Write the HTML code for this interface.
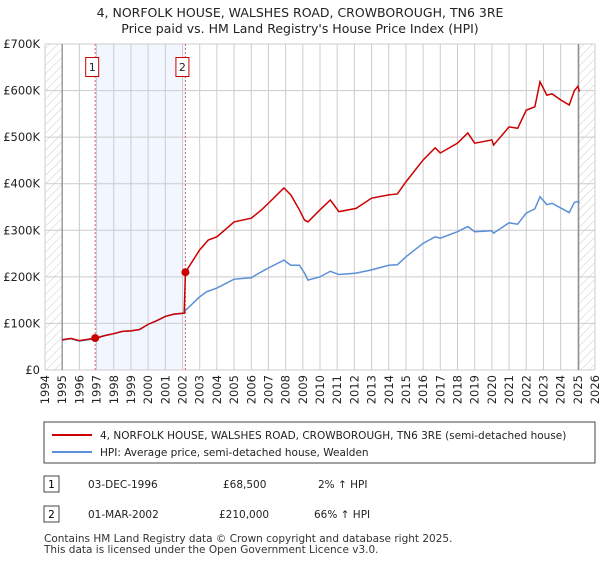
<!DOCTYPE html>
<html><head><meta charset="utf-8"><style>
body{margin:0;background:#fff;font-family:"Liberation Sans","DejaVu Sans",sans-serif;}
svg text{font-family:"DejaVu Sans","Liberation Sans",sans-serif;}
</style></head><body>
<svg id="c" width="600" height="560" xmlns="http://www.w3.org/2000/svg">
<defs><pattern id="hatch" width="6" height="6" patternUnits="userSpaceOnUse" patternTransform="rotate(45)"><line x1="0" y1="0" x2="0" y2="6" stroke="#ccc" stroke-width="1"/></pattern></defs>
<text x="300" y="17" text-anchor="middle" font-size="12.5" fill="#222">4, NORFOLK HOUSE, WALSHES ROAD, CROWBOROUGH, TN6 3RE</text>
<text x="300" y="33" text-anchor="middle" font-size="12.5" fill="#222">Price paid vs. HM Land Registry's House Price Index (HPI)</text>
<g id="plot"></g>
<rect x="44" y="422" width="551" height="41" fill="#fff" stroke="#444"/>
<line x1="52" y1="435" x2="92" y2="435" stroke="#cc0000" stroke-width="2"/>
<text x="100" y="439" font-size="10.5" fill="#222">4, NORFOLK HOUSE, WALSHES ROAD, CROWBOROUGH, TN6 3RE (semi-detached house)</text>
<line x1="52" y1="452" x2="92" y2="452" stroke="#5b8fd6" stroke-width="2"/>
<text x="100" y="456" font-size="10.5" fill="#222">HPI: Average price, semi-detached house, Wealden</text>
<rect x="44" y="476" width="15" height="16" fill="#fff" stroke="#444"/>
<text x="51.5" y="488" font-size="10.5" text-anchor="middle">1</text>
<text x="88" y="488" font-size="10.5" fill="#222">03-DEC-1996</text>
<text x="223" y="488" font-size="10.5" fill="#222">£68,500</text>
<text x="318" y="488" font-size="10.5" fill="#222">2% ↑ HPI</text>
<rect x="44" y="506" width="15" height="16" fill="#fff" stroke="#444"/>
<text x="51.5" y="518" font-size="10.5" text-anchor="middle">2</text>
<text x="88" y="518" font-size="10.5" fill="#222">01-MAR-2002</text>
<text x="219" y="518" font-size="10.5" fill="#222">£210,000</text>
<text x="314" y="518" font-size="10.5" fill="#222">66% ↑ HPI</text>
<text x="44" y="542" font-size="10.5" fill="#333">Contains HM Land Registry data © Crown copyright and database right 2025.</text>
<text x="44" y="553" font-size="10.5" fill="#333">This data is licensed under the Open Government Licence v3.0.</text>
</svg>
<script>
const hpiYears=[1995,1995.5,1996,1996.9,1997.5,1998,1998.5,1999,1999.5,2000,2000.5,2001,2001.5,2002.1,2002.2,2003,2003.4,2004,2005,2006,2006.5,2007,2007.9,2008.3,2008.8,2009.1,2009.3,2010,2010.6,2011.1,2012.1,2013,2014,2014.5,2015,2016,2016.7,2017,2018,2018.6,2019,2020,2020.1,2021,2021.5,2022,2022.5,2022.8,2023.2,2023.5,2024,2024.5,2024.8,2025,2025.1];
const hpiValues=[64,67,62,67,74,78,83,84,87,98,106,115,120,122,129,157,168,176,195,198,209,219,236,225,225,208,193,200,212,205,208,215,225,226,243,272,286,283,297,308,297,299,294,316,313,337,346,372,355,358,348,338,360,362,358];
const priceYears=[1995,1995.5,1996,1996.92,1997.5,1998,1998.5,1999,1999.5,2000,2000.5,2001,2001.5,2002.1,2002.17,2003,2003.5,2004,2005,2006,2006.6,2007,2007.9,2008.3,2008.8,2009.1,2009.3,2010,2010.6,2011.1,2012.1,2013,2014,2014.5,2015,2016,2016.7,2017,2018,2018.6,2019,2020,2020.1,2021,2021.5,2022,2022.5,2022.8,2023.2,2023.5,2024,2024.5,2024.8,2025,2025.1];
const priceValues=[65,68,63,68.5,74,78,83,84,87,98,106,115,120,122,210,258,279,286,318,326,344,358,391,376,344,322,318,344,365,340,347,369,376,378,404,451,477,466,487,509,487,494,483,522,519,558,565,619,590,593,580,569,600,609,598];
const sales=[{y:1996.92,v:68.5,l:"1"},{y:2002.17,v:210,l:"2"}];
const yTicks=[0,100,200,300,400,500,600,700];
const yTickLabels=["£0","£100K","£200K","£300K","£400K","£500K","£600K","£700K"];
const xTicks=[1994,1995,1996,1997,1998,1999,2000,2001,2002,2003,2004,2005,2006,2007,2008,2009,2010,2011,2012,2013,2014,2015,2016,2017,2018,2019,2020,2021,2022,2023,2024,2025,2026];

const L=45,R=595,T=44,B=370,NS="http://www.w3.org/2000/svg";
const xs=y=>L+(y-1994)/32*(R-L);
const ys=v=>B-v/700*(B-T);
const g=document.getElementById('plot');
function mk(tag,a,p){const e=document.createElementNS(NS,tag);for(const k in a)e.setAttribute(k,a[k]);(p||g).appendChild(e);return e;}
let r=mk('rect',{x:L,y:T,width:R-L,height:B-T,fill:'#fff'});


r=mk('rect',{x:xs(sales[0].y),y:T,width:xs(sales[1].y)-xs(sales[0].y),height:B-T,fill:'#f2f6fe'});


r=mk('rect',{x:L,y:T,width:xs(1995)-L,height:B-T,fill:'url(#hatch)'});


r=mk('rect',{x:xs(2025.05),y:T,width:R-xs(2025.05),height:B-T,fill:'url(#hatch)'});


xTicks.forEach(t=>{const l=mk('line',{x1:xs(t),x2:xs(t),y1:T,y2:B,stroke:'#ccc'});


const tx=mk('text',{x:0,y:0,'font-size':11.5,fill:'#222','text-anchor':'end',transform:`translate(${xs(t)+4},${B+5}) rotate(-90)`});tx.textContent=t;

});
yTicks.forEach((t,i)=>{const l=mk('line',{x1:L,x2:R,y1:ys(t),y2:ys(t),stroke:'#ccc'});


const tx=mk('text',{x:L-5,y:ys(t)+4,'font-size':11.5,fill:'#222','text-anchor':'end'});tx.textContent=yTickLabels[i];

});
[1995,2025.05].forEach(t=>{const l=mk('line',{x1:xs(t),x2:xs(t),y1:T,y2:B,stroke:'#888','stroke-width':1.2});

});
sales.forEach(s=>{const l=mk('line',{x1:xs(s.y),x2:xs(s.y),y1:T,y2:B,stroke:'#e06060','stroke-dasharray':'2,2'});


const b=mk('rect',{x:xs(s.y)-9.5,y:57.5,width:13,height:19,fill:'#fff',stroke:'#cc0000'});


const t=mk('text',{x:xs(s.y)-3,y:71,'font-size':11,'text-anchor':'middle',fill:'#222'});t.textContent=s.l;

});
let p=mk('polyline',{points:hpiYears.map((y,i)=>xs(y)+','+ys(hpiValues[i])).join(' '),fill:'none',stroke:'#5b8fd6','stroke-width':1.5});


p=mk('polyline',{points:priceYears.map((y,i)=>xs(y)+','+ys(priceValues[i])).join(' '),fill:'none',stroke:'#cc0000','stroke-width':1.5});


sales.forEach(s=>{const c=mk('circle',{cx:xs(s.y),cy:ys(s.v),r:4,fill:'#cc0000'});

});
</script>
</body></html>
